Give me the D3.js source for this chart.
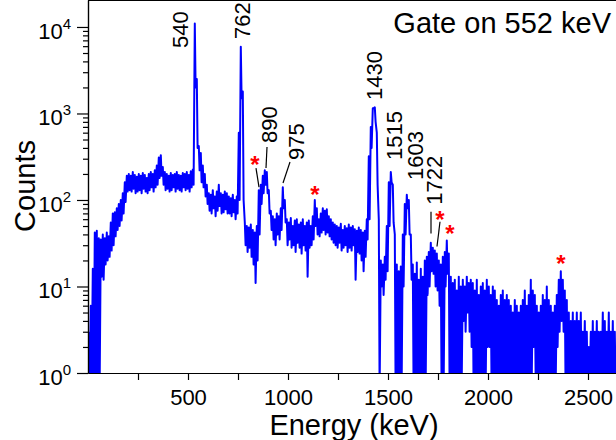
<!DOCTYPE html>
<html>
<head>
<meta charset="utf-8">
<script src="https://cdn.jsdelivr.net/npm/d3@7"></script>
<style>
  body { margin: 0; background: #fff; }
  svg { display: block; font-family: "Liberation Sans", Arial, Helvetica, sans-serif; }
</style>
</head>
<body>
<svg id="chart" width="616" height="440"></svg>
<script>
const binKeV = 10
const countsHigh = [
  3, 6, 16, 42, 44, 36, 35, 40, 36, 42, 38, 55, 70, 72, 80, 90, 100, 120, 160, 190,
  200, 190, 210, 195, 185, 200, 190, 205, 195, 180, 200, 210, 200, 220, 250, 310, 330, 240, 210, 200,
  190, 205, 195, 200, 210, 195, 190, 205, 200, 210, 195, 215, 225, 11000, 2500, 420, 350, 250, 200, 150,
  120, 115, 130, 110, 125, 150, 120, 115, 125, 120, 110, 105, 115, 100, 110, 600, 5900, 1800, 55, 50,
  48, 52, 45, 42, 50, 130, 150, 190, 220, 210, 130, 75, 65, 60, 70, 65, 80, 140, 100, 60,
  55, 62, 50, 58, 60, 52, 55, 60, 50, 55, 58, 50, 65, 100, 80, 60, 70, 80, 75, 78,
  65, 60, 55, 52, 50, 48, 53, 45, 50, 47, 52, 48, 50, 46, 44, 48, 45, 42, 44, 60,
  320, 700, 1150, 1180, 600, 60, 20, 18, 22, 50, 160, 210, 150, 40, 18, 15, 17, 40, 90, 115,
  100, 40, 18, 14, 19, 12, 16, 13, 20, 22, 25, 32, 28, 26, 24, 20, 18, 22, 25, 34,
  24, 13, 11, 12, 9, 13, 10, 12, 10, 13, 11, 12, 11, 9, 12, 8, 10, 11, 9, 12,
  10, 8, 10, 9, 7, 6, 8, 9, 7, 8, 7, 6, 5, 7, 6, 5, 6, 7, 9, 6,
  8, 12, 9, 8, 6, 5, 6, 8, 7, 10, 7, 6, 5, 6, 8, 12, 15, 12, 9, 7,
  5, 4, 5, 4, 5, 4, 5, 3, 4, 3, 2, 3, 4, 3, 4, 3, 3, 5, 4, 3,
  5, 3, 4, 3
]
const countsLow = [
  0, 0, 0, 0, 0, 0, 13, 12, 18, 20, 22, 26, 30, 38, 45, 50, 58, 70, 95, 125,
  130, 125, 135, 120, 125, 130, 120, 135, 125, 120, 130, 140, 125, 140, 150, 180, 190, 150, 130, 135,
  125, 130, 140, 125, 135, 130, 125, 140, 130, 135, 125, 140, 150, 2000, 400, 220, 160, 140, 110, 90,
  75, 70, 80, 65, 75, 85, 70, 72, 78, 70, 70, 65, 72, 60, 70, 100, 1500, 100, 30, 25,
  28, 22, 18, 11, 20, 40, 90, 120, 150, 120, 70, 45, 35, 30, 40, 35, 45, 80, 55, 30,
  35, 28, 30, 25, 32, 28, 24, 30, 26, 13, 28, 30, 35, 50, 40, 38, 42, 45, 40, 42,
  38, 35, 32, 30, 28, 32, 26, 28, 30, 25, 28, 26, 30, 12, 25, 24, 20, 15, 22, 35,
  60, 400, 1150, 800, 150, 0, 10, 8, 12, 15, 50, 160, 55, 0, 0, 0, 0, 10, 40, 80,
  40, 12, 0, 0, 0, 0, 0, 0, 0, 8, 10, 15, 14, 10, 9, 6, 0, 0, 10, 14,
  0, 0, 0, 0, 0, 0, 0, 4, 3, 5, 3, 2, 0, 0, 0, 0, 0, 0, 0, 2,
  2, 0, 0, 0, 0, 0, 0, 0, 0, 0, 0, 0, 0, 0, 0, 0, 0, 0, 0, 0,
  0, 0, 2, 1, 0, 0, 0, 0, 0, 0, 0, 0, 0, 0, 2, 3, 4, 3, 0, 0,
  0, 0, 0, 0, 0, 0, 0, 0, 0, 0, 0, 0, 0, 0, 0, 0, 0, 0, 0, 0,
  0, 0, 0, 0
]

const xTicks = [250, 500, 750, 1000, 1250, 1500, 1750, 2000, 2250, 2500]
const yDecades = [0, 1, 2, 3, 4]

// peak labels: text, energy and counts where the (rotated) text starts
const peakNames = ['540', '762', '890', '975', '1430', '1515', '1603', '1722']
const peakLabelE = [500, 810, 945, 1080, 1470, 1570, 1675, 1770]
const peakLabelC = [5720, 7270, 456, 290, 1430, 290, 170, 88]

// leader lines [E1, C1, E2, C2]
const leaders = [
  [895, 410, 890, 234],
  [1010, 275, 975, 157],
  [840, 234, 855, 141],
  [1715, 73, 1715, 41],
  [1760, 56, 1745, 29]
]

// red asterisks (contaminant lines)
const starE = [835, 1135, 1760, 1810, 2365]
const starC = [290, 131, 67, 46, 21]

const svg = d3.select('#chart')
const plotL = 88, plotR = 616, plotT = 0, plotB = 373

const x = d3.scaleLinear().domain([0, 2640]).range([plotL, plotR])
const y = d3.scaleLog().domain([1, 20500]).range([plotB, plotT])

svg.append('defs').append('clipPath').attr('id', 'plot')
  .append('rect').attr('x', plotL).attr('y', plotT).attr('width', plotR - plotL).attr('height', plotB - plotT)

// zigzag through max/min of every bin
const pts = []
countsHigh.forEach((h, i) => {
  pts.push([i * binKeV + 4, h])
  pts.push([i * binKeV + 8, countsLow[i]])
})

const line = d3.line()
  .x(d => x(d[0]))
  .y(d => y(Math.max(d[1], 0.6)))

svg.append('path')
  .datum(pts)
  .attr('clip-path', 'url(#plot)')
  .attr('fill', 'none')
  .attr('stroke', '#0000ff')
  .attr('stroke-width', 2)
  .attr('stroke-linejoin', 'round')
  .attr('d', line)

// axes
const minor = []
yDecades.slice(0, -1).forEach(k => {
  for (let m = 2; m <= 9; m++) minor.push(m * Math.pow(10, k))
})
const major = yDecades.map(k => Math.pow(10, k))

svg.append('g')
  .attr('transform', 'translate(' + plotL + ',0)')
  .call(d3.axisLeft(y).tickValues(minor).tickSize(5).tickSizeOuter(0).tickFormat(''))
  .selectAll('.tick text').remove()
svg.append('g')
  .attr('transform', 'translate(' + plotL + ',0)')
  .call(d3.axisLeft(y).tickValues(major).tickSize(11).tickSizeOuter(0).tickFormat(''))
  .selectAll('.tick text').remove()

const xAxis = svg.append('g')
  .attr('transform', 'translate(0,' + plotB + ')')
  .call(d3.axisBottom(x).tickValues(xTicks).tickSize(7).tickSizeOuter(0).tickPadding(9)
    .tickFormat(d3.format('d')))
xAxis.selectAll('.tick text')
  .filter(d => d % 500 !== 0)
  .remove()
xAxis.selectAll('.tick text')
  .attr('font-size', 22)
  .attr('font-family', '"Liberation Sans", Arial, sans-serif')
  .attr('fill', '#000')

svg.selectAll('.domain, .tick line').attr('stroke', '#000').attr('stroke-width', 1.2)

// top frame
svg.append('line')
  .attr('x1', plotL).attr('x2', plotR)
  .attr('y1', plotT + 0.5).attr('y2', plotT + 0.5)
  .attr('stroke', '#000').attr('stroke-width', 1.2)

// decade labels 10^k
const yLab = svg.append('g')
  .selectAll('text')
  .data(yDecades)
  .enter().append('text')
    .attr('x', 71)
    .attr('y', k => y(Math.pow(10, k)) + 12)
    .attr('text-anchor', 'end')
    .attr('font-size', 22)
yLab.append('tspan').text('10')
yLab.append('tspan').attr('dy', -10).attr('font-size', 15).text(k => k)

// axis titles
svg.append('text')
  .attr('transform', 'translate(35,186) rotate(-90)')
  .attr('text-anchor', 'middle')
  .attr('font-size', 29)
  .text('Counts')

svg.append('text')
  .attr('x', 354).attr('y', 435)
  .attr('text-anchor', 'middle')
  .attr('font-size', 29)
  .text('Energy (keV)')

svg.append('text')
  .attr('x', 611).attr('y', 33)
  .attr('text-anchor', 'end')
  .attr('font-size', 29)
  .text('Gate on 552 keV')

// peak labels
svg.append('g')
  .selectAll('text')
  .data(peakNames)
  .enter().append('text')
    .attr('transform', (d, i) => 'translate(' + x(peakLabelE[i]) + ',' + y(peakLabelC[i]) + ') rotate(-90)')
    .attr('font-size', 22)
    .text(d => d)

svg.append('g')
  .selectAll('line')
  .data(leaders)
  .enter().append('line')
    .attr('x1', d => x(d[0])).attr('y1', d => y(d[1]))
    .attr('x2', d => x(d[2])).attr('y2', d => y(d[3]))
    .attr('stroke', '#000')
    .attr('stroke-width', 1.2)

svg.append('g')
  .selectAll('text')
  .data(starE)
  .enter().append('text')
    .attr('x', d => x(d))
    .attr('y', (d, i) => y(starC[i]) + 13)
    .attr('text-anchor', 'middle')
    .attr('font-size', 24)
    .attr('font-weight', 'bold')
    .attr('fill', '#ff0000')
    .text('*')
</script>
</body>
</html>
